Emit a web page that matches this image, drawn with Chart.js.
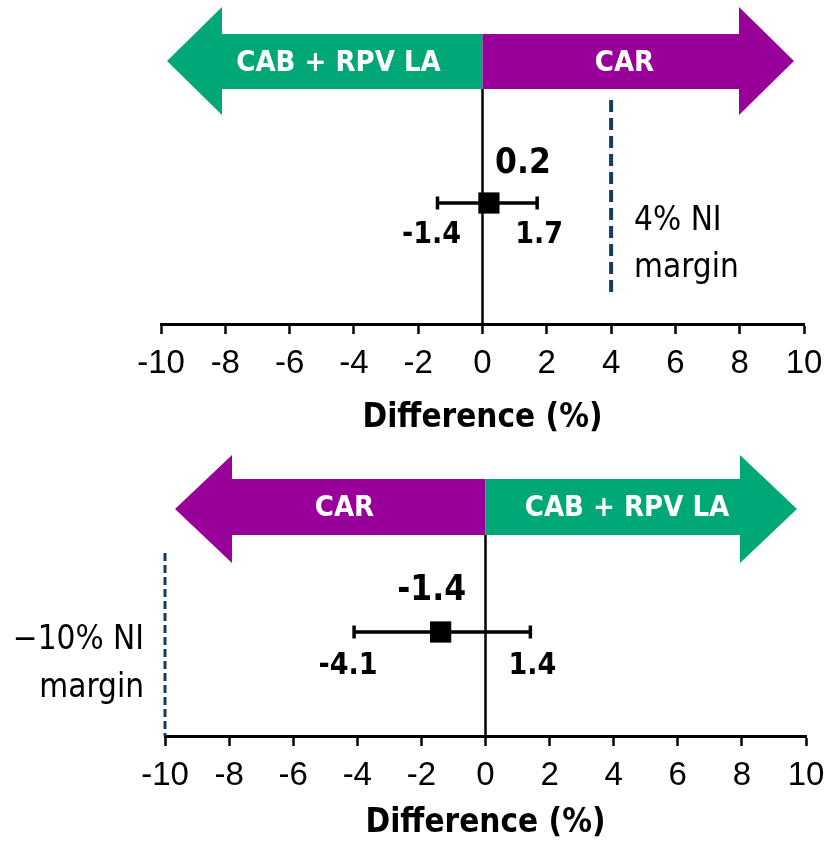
<!DOCTYPE html>
<html>
<head>
<meta charset="utf-8">
<script src="https://cdn.jsdelivr.net/npm/chart.js@4.4.1/dist/chart.umd.min.js"></script>
<style>
  html, body { margin: 0; padding: 0; background: #ffffff; }
  #wrap { position: relative; width: 825px; height: 841px; overflow: hidden; }
  canvas { position: absolute; left: 0; }
</style>
</head>
<body>
<div id="wrap">
  <canvas id="panelTop" width="825" height="440" style="top:0px"></canvas>
  <canvas id="panelBottom" width="825" height="405" style="top:440px"></canvas>
</div>
<script>
// ---- data ----
const xTicks = [-10, -8, -6, -4, -2, 0, 2, 4, 6, 8, 10];
const axisTitle = 'Difference (%)';

// upper panel: CAB + RPV LA favoured to the left, CAR to the right
const topArrowLabels = ['CAB + RPV LA', 'CAR'];
const topEstimate = [0.2];
const topLower = [-1.4];
const topUpper = [1.7];
const topMargin = [4];
const topMarginText = ['4% NI', 'margin'];

// lower panel: CAR favoured to the left, CAB + RPV LA to the right
const bottomArrowLabels = ['CAR', 'CAB + RPV LA'];
const bottomEstimate = [-1.4];
const bottomLower = [-4.1];
const bottomUpper = [1.4];
const bottomMargin = [-10];
const bottomMarginText = ['\u221210% NI', 'margin'];

// ---- styling ----
const GREEN = '#00a878';
const PURPLE = '#990099';
const NAVY = '#173a66';
const SANS = '"DejaVu Sans Condensed", "DejaVu Sans", sans-serif';
const TICKFONT = '"Liberation Sans", Arial, sans-serif';

// Draws the direction arrows, zero line, CI whiskers and value labels
const forestDecor = {
  id: 'forestDecor',
  beforeDatasetsDraw(chart, args, o) {
    const { ctx, chartArea: ca, scales: { x, y } } = chart;
    const x0 = x.getPixelForValue(0);
    ctx.save();

    // zero line
    ctx.strokeStyle = '#000';
    ctx.lineWidth = 2.5;
    ctx.beginPath();
    ctx.moveTo(x0, o.bodyBot);
    ctx.lineTo(x0, ca.bottom);
    ctx.stroke();

    // left arrow
    const lTip = ca.left + o.tipIn[0];
    const lBack = lTip + o.headLen;
    ctx.fillStyle = o.colors[0];
    ctx.beginPath();
    ctx.moveTo(x0, o.bodyTop);
    ctx.lineTo(lBack, o.bodyTop);
    ctx.lineTo(lBack, o.headTop);
    ctx.lineTo(lTip, (o.headTop + o.headBot) / 2);
    ctx.lineTo(lBack, o.headBot);
    ctx.lineTo(lBack, o.bodyBot);
    ctx.lineTo(x0, o.bodyBot);
    ctx.closePath();
    ctx.fill();

    // right arrow
    const rTip = ca.right - o.tipIn[1];
    const rBack = rTip - o.headLen;
    ctx.fillStyle = o.colors[1];
    ctx.beginPath();
    ctx.moveTo(x0, o.bodyTop);
    ctx.lineTo(rBack, o.bodyTop);
    ctx.lineTo(rBack, o.headTop);
    ctx.lineTo(rTip, (o.headTop + o.headBot) / 2);
    ctx.lineTo(rBack, o.headBot);
    ctx.lineTo(rBack, o.bodyBot);
    ctx.lineTo(x0, o.bodyBot);
    ctx.closePath();
    ctx.fill();

    // arrow captions
    ctx.fillStyle = '#ffffff';
    ctx.font = 'bold 29px ' + SANS;
    ctx.textAlign = 'center';
    ctx.textBaseline = 'middle';
    const midY = (o.bodyTop + o.bodyBot) / 2 + 1.5;
    ctx.fillText(o.labels[0], (lTip + lBack + 2 * x0) / 4, midY);
    ctx.fillText(o.labels[1], (rTip + rBack + 2 * x0) / 4, midY);

    // confidence interval whiskers
    ctx.strokeStyle = '#000';
    ctx.lineWidth = 3.5;
    o.est.forEach((v, i) => {
      const py = y.getPixelForValue(1);
      const a = x.getPixelForValue(o.lo[i]);
      const b = x.getPixelForValue(o.hi[i]);
      ctx.beginPath();
      ctx.moveTo(a, py); ctx.lineTo(b, py);
      ctx.moveTo(a, py - 6.5); ctx.lineTo(a, py + 6.5);
      ctx.moveTo(b, py - 6.5); ctx.lineTo(b, py + 6.5);
      ctx.stroke();
    });
    ctx.restore();
  },
  afterDatasetsDraw(chart, args, o) {
    const { ctx, scales: { x, y } } = chart;
    ctx.save();
    ctx.fillStyle = '#000';
    ctx.textAlign = 'center';
    ctx.textBaseline = 'middle';
    o.est.forEach((v, i) => {
      const py = y.getPixelForValue(1);
      ctx.font = 'bold 35px ' + SANS;
      ctx.fillText(v.toFixed(1), x.getPixelForValue(v) + o.estOff[0], py + o.estOff[1]);
      ctx.font = 'bold 30px ' + SANS;
      ctx.fillText(o.lo[i].toFixed(1), x.getPixelForValue(o.lo[i]) - 6, py + o.ciDy);
      ctx.fillText(o.hi[i].toFixed(1), x.getPixelForValue(o.hi[i]) + 2, py + o.ciDy);
    });
    // non-inferiority margin caption
    ctx.font = '33px ' + SANS;
    const mx = x.getPixelForValue(o.margin[0]);
    const py = y.getPixelForValue(1);
    ctx.textAlign = o.marginSide > 0 ? 'left' : 'right';
    o.marginText.forEach((t, j) => {
      ctx.fillText(t, mx + o.marginSide * o.marginGap, py + o.marginDy[j]);
    });
    ctx.restore();
  }
};

function makePanel(id, d, L) {
  return new Chart(document.getElementById(id), {
    type: 'scatter',
    data: {
      datasets: [
        {
          type: 'line',
          data: [{ x: d.margin[0], y: L.dashTop }, { x: d.margin[0], y: L.dashBot }],
          borderColor: NAVY,
          borderWidth: L.dashWidth,
          borderDash: L.dash,
          pointRadius: 0,
          fill: false,
          clip: false
        },
        {
          data: d.est.map(v => ({ x: v, y: 1 })),
          pointStyle: 'rect',
          pointRadius: 15,
          backgroundColor: '#000',
          borderColor: '#000',
          borderWidth: 0,
          clip: false
        }
      ]
    },
    options: {
      responsive: false,
      animation: false,
      events: [],
      layout: { autoPadding: false, padding: { left: L.left, right: L.right, top: 0, bottom: 0 } },
      plugins: {
        legend: { display: false },
        tooltip: { enabled: false },
        forestDecor: {
          labels: d.arrows, colors: L.colors, est: d.est, lo: d.lo, hi: d.hi,
          margin: d.margin, marginText: d.marginText,
          tipIn: L.tipIn, headLen: L.headLen,
          headTop: L.headTop, bodyTop: L.bodyTop, bodyBot: L.bodyBot, headBot: L.headBot,
          estOff: L.estOff, ciDy: L.ciDy,
          marginSide: L.marginSide, marginGap: L.marginGap, marginDy: L.marginDy
        }
      },
      scales: {
        x: {
          type: 'linear',
          min: xTicks[0],
          max: xTicks[xTicks.length - 1],
          afterBuildTicks: s => { s.ticks = xTicks.map(v => ({ value: v })); },
          afterFit: s => { s.height = L.scaleH; s.paddingLeft = 0; s.paddingRight = 0; },
          grid: { drawOnChartArea: false, drawTicks: true, tickLength: 10, tickColor: '#000', tickWidth: 2.5 },
          border: { display: true, color: '#000', width: 3 },
          ticks: {
            font: { family: TICKFONT, size: 33 },
            color: '#000',
            padding: 10,
            maxRotation: 0,
            autoSkip: false,
            callback: v => String(v)
          },
          title: {
            display: true,
            text: axisTitle,
            color: '#000',
            font: { family: SANS, size: 33, weight: 'bold' },
            padding: { top: 0, bottom: L.titlePad }
          }
        },
        y: { display: false, min: 0, max: L.yMax }
      }
    },
    plugins: [forestDecor]
  });
}

makePanel('panelTop',
  { arrows: topArrowLabels, est: topEstimate, lo: topLower, hi: topUpper, margin: topMargin, marginText: topMarginText },
  {
    left: 161, right: 21, scaleH: 116, titlePad: 2, yMax: 324 / 121,
    colors: [GREEN, PURPLE], tipIn: [6, 10], headLen: 55,
    headTop: 7, bodyTop: 34, bodyBot: 89, headBot: 115,
    dashTop: 224 / 121, dashBot: 27 / 121, dashWidth: 4, dash: [12, 6],
    estOff: [34, -39], ciDy: 32,
    marginSide: 1, marginGap: 23, marginDy: [18, 65]
  });

makePanel('panelBottom',
  { arrows: bottomArrowLabels, est: bottomEstimate, lo: bottomLower, hi: bottomUpper, margin: bottomMargin, marginText: bottomMarginText },
  {
    left: 165, right: 19, scaleH: 109, titlePad: 2, yMax: 296 / 104,
    colors: [PURPLE, GREEN], tipIn: [10, 9], headLen: 57,
    headTop: 15, bodyTop: 39, bodyBot: 95, headBot: 123,
    dashTop: 183 / 104, dashBot: 0, dashWidth: 3, dash: [8, 4],
    estOff: [-9, -41], ciDy: 34,
    marginSide: -1, marginGap: 21, marginDy: [8, 56]
  });
</script>
</body>
</html>
